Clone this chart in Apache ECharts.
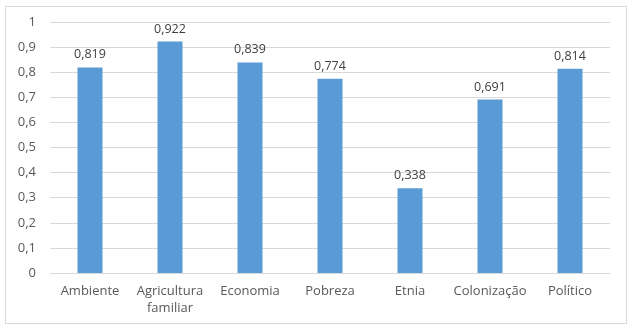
<!DOCTYPE html>
<html><head><meta charset="utf-8">
<script src="https://cdn.jsdelivr.net/npm/echarts@6/dist/echarts.min.js"></script>
<style>html,body{margin:0;padding:0;background:#fff}#c{width:635px;height:331px}</style>
</head><body><div id="c"></div>
<script>
const categories = ['Ambiente','Agricultura\nfamiliar','Economia','Pobreza','Etnia','Colonização','Político'];
const values = [0.819,0.922,0.839,0.774,0.338,0.691,0.814];
const yTicks = [0,0.1,0.2,0.3,0.4,0.5,0.6,0.7,0.8,0.9,1];
const fmt = v => String(v).replace('.', ',');
const chart = echarts.init(document.getElementById('c'));
chart.setOption({
  animation:false,
  graphic:[{type:'rect',shape:{x:5.5,y:6.5,width:621,height:317},style:{fill:'none',stroke:'#d9d9d9',lineWidth:1}}],
  grid:{left:50,right:25,top:22,bottom:58},
  xAxis:{type:'category',data:categories,
    axisLine:{lineStyle:{color:'#d9d9d9'}},axisTick:{show:false},
    axisLabel:{color:'#595959',fontFamily:'Open Sans',fontSize:13,margin:10,lineHeight:17,interval:0}},
  yAxis:{type:'value',min:0,max:1,interval:0.1,
    axisLine:{show:false},axisTick:{show:false},
    splitLine:{lineStyle:{color:'#d9d9d9'}},
    axisLabel:{color:'#595959',fontFamily:'Open Sans',fontSize:13,margin:14,formatter:v=>fmt(Math.round(v*10)/10)}},
  series:[{type:'bar',data:values,barWidth:25,itemStyle:{color:'#5b9bd5'},
    label:{show:true,position:'top',distance:6,color:'#404040',fontFamily:'Open Sans',fontSize:12.5,formatter:p=>fmt(p.value)}}]
});
</script></body></html>
